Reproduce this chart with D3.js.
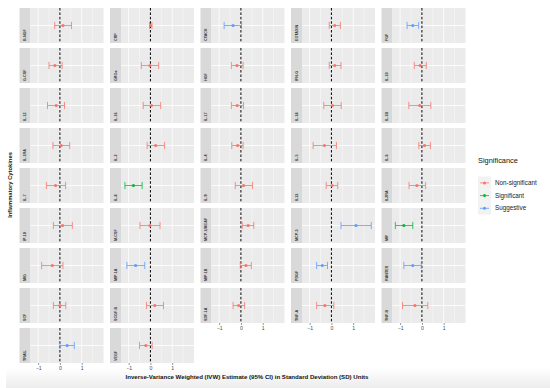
<!DOCTYPE html>
<html>
<head>
<meta charset="utf-8">
<script src="https://cdn.jsdelivr.net/npm/d3@7"></script>
<style>
  body { margin: 0; background: #fff; }
  text { font-family: "Liberation Sans", Arial, sans-serif; }
</style>
</head>
<body>
<div id="chart"></div>
<script>
// cytokines in facet order (row-wise, 5 per row)
var cytokines = ["B-NGF","CRP","CTACK","EOTAXIN","FGF",
  "G-CSF","GROa","HGF","IFN-G","IL-10",
  "IL-12","IL-16","IL-17","IL-18","IL-1B",
  "IL-1RA","IL-2","IL-4","IL-5","IL-6",
  "IL-7","IL-8","IL-9","IL13","IL2RA",
  "IP-10","M-CSF","MCP-1/MCAF","MCP-3","MIF",
  "MIG","MIP-1A","MIP-1B","PDGF","RANTES",
  "SCF","SCGF-B","SDF-1A","TNF-A","TNF-B",
  "TRAIL","VEGF"];

var estimate = [0.14, 0.01, -0.36, 0.15, -0.42,
  -0.23, -0.02, -0.18, 0.15, -0.08,
  -0.17, 0.05, -0.17, 0.05, -0.10,
  0.06, 0.24, -0.15, -0.32, 0.12,
  -0.20, -0.78, 0.12, 0.03, -0.23,
  0.12, -0.02, 0.33, 1.13, -0.83,
  -0.35, -0.68, 0.23, -0.42, -0.42,
  0.00, 0.20, -0.10, -0.30, -0.32,
  0.33, -0.21];

var lower = [-0.24, -0.04, -0.77, -0.10, -0.68,
  -0.50, -0.42, -0.44, -0.10, -0.35,
  -0.57, -0.33, -0.44, -0.35, -0.60,
  -0.32, -0.15, -0.42, -0.84, -0.14,
  -0.62, -1.17, -0.26, -0.24, -0.59,
  -0.30, -0.48, 0.06, 0.44, -1.22,
  -0.84, -1.08, -0.03, -0.68, -0.83,
  -0.30, -0.18, -0.36, -0.68, -0.89,
  0.00, -0.50];

var upper = [0.53, 0.07, 0.03, 0.41, -0.15,
  0.10, 0.38, 0.10, 0.44, 0.20,
  0.21, 0.47, 0.12, 0.45, 0.41,
  0.45, 0.65, 0.10, 0.23, 0.39,
  0.26, -0.38, 0.53, 0.29, 0.17,
  0.57, 0.44, 0.59, 1.83, -0.42,
  0.14, -0.26, 0.48, -0.18, -0.03,
  0.27, 0.60, 0.17, 0.11, 0.27,
  0.66, 0.08];

var significance = ["N","N","S","N","S",
  "N","N","N","N","N",
  "N","N","N","N","N",
  "N","N","N","N","N",
  "N","G","N","N","N",
  "N","N","N","S","G",
  "N","S","N","S","S",
  "N","N","N","N","N",
  "S","N"];

var sigNames = {N: "Non-significant", G: "Significant", S: "Suggestive"};
var sigColor = {N: "#F8766D", G: "#00BA38", S: "#619CFF"};

var xTicks = [-1, 0, 1];
var xMinor = [-0.5, 0.5, 1.5];

var width = 550, height = 388;
var ncol = 5;
var colStart = 19.5, colStep = 90.5, stripW = 11, plotW = 73;
var rowStart = 8, rowStep = 40, panelH = 35;

var svg = d3.select("#chart").append("svg")
  .attr("width", width)
  .attr("height", height);

// faint grey band at the bottom of the screenshot
var grad = svg.append("defs").append("linearGradient")
  .attr("id", "fade").attr("x1", 0).attr("y1", 0).attr("x2", 0).attr("y2", 1);
grad.append("stop").attr("offset", "0%").attr("stop-color", "#fff");
grad.append("stop").attr("offset", "100%").attr("stop-color", "#ececec");
svg.append("rect").attr("x", 6).attr("y", 368).attr("width", 544).attr("height", 20)
  .attr("fill", "url(#fade)");

var x = d3.scaleLinear().domain([-1.35, 2.0]).range([0, plotW]);

var data = cytokines.map(function(c, i) {
  return {name: c, est: estimate[i], lo: lower[i], hi: upper[i], sig: significance[i], i: i};
});

var nrowCol = function(col) {
  return d3.max(data.filter(function(d) { return d.i % ncol === col; }), function(d) { return Math.floor(d.i / ncol); });
};

var panels = svg.selectAll("g.panel").data(data).enter().append("g")
  .attr("class", "panel")
  .attr("transform", function(d) {
    var col = d.i % ncol, row = Math.floor(d.i / ncol);
    return "translate(" + (colStart + col * colStep) + "," + (rowStart + row * rowStep) + ")";
  });

// strip
panels.append("rect")
  .attr("width", stripW).attr("height", panelH)
  .attr("fill", "#D9D9D9");
panels.append("text")
  .attr("transform", "translate(" + (stripW / 2 + 1.3) + "," + (panelH - 2) + ") rotate(-90)")
  .attr("font-size", 3.7)
  .attr("font-weight", "bold")
  .attr("fill", "#333")
  .text(function(d) { return d.name; });

// plot background
var plot = panels.append("g").attr("transform", "translate(" + stripW + ",0)");
plot.append("rect").attr("width", plotW).attr("height", panelH).attr("fill", "#EBEBEB");

plot.selectAll("line.minor").data(xMinor).enter().append("line")
  .attr("x1", x).attr("x2", x).attr("y1", 0).attr("y2", panelH)
  .attr("stroke", "#fff").attr("stroke-width", 0.4);
plot.selectAll("line.major").data(xTicks).enter().append("line")
  .attr("x1", x).attr("x2", x).attr("y1", 0).attr("y2", panelH)
  .attr("stroke", "#fff").attr("stroke-width", 0.8);
plot.append("line")
  .attr("x1", 0).attr("x2", plotW).attr("y1", panelH / 2).attr("y2", panelH / 2)
  .attr("stroke", "#fff").attr("stroke-width", 0.8);

// reference line at zero
plot.append("line")
  .attr("x1", x(0)).attr("x2", x(0)).attr("y1", 0).attr("y2", panelH)
  .attr("stroke", "#000").attr("stroke-width", 1).attr("stroke-dasharray", "2.6,1.8");

// error bars
var cy = panelH / 2, cap = 3.6;
plot.append("line")
  .attr("x1", function(d) { return x(d.lo); }).attr("x2", function(d) { return x(d.hi); })
  .attr("y1", cy).attr("y2", cy)
  .attr("stroke", function(d) { return sigColor[d.sig]; }).attr("stroke-width", 0.8);
plot.append("line")
  .attr("x1", function(d) { return x(d.lo); }).attr("x2", function(d) { return x(d.lo); })
  .attr("y1", cy - cap).attr("y2", cy + cap)
  .attr("stroke", function(d) { return sigColor[d.sig]; }).attr("stroke-width", 0.8);
plot.append("line")
  .attr("x1", function(d) { return x(d.hi); }).attr("x2", function(d) { return x(d.hi); })
  .attr("y1", cy - cap).attr("y2", cy + cap)
  .attr("stroke", function(d) { return sigColor[d.sig]; }).attr("stroke-width", 0.8);
plot.append("circle")
  .attr("cx", function(d) { return x(d.est); }).attr("cy", cy).attr("r", 1.6)
  .attr("fill", function(d) { return sigColor[d.sig]; });

// x axis under the last panel of each column
plot.filter(function(d) { return Math.floor(d.i / ncol) === nrowCol(d.i % ncol); })
  .append("g")
  .attr("transform", "translate(0," + panelH + ")")
  .call(d3.axisBottom(x).tickValues(xTicks).tickSize(2).tickPadding(1.5).tickFormat(d3.format("d")))
  .call(function(g) {
    g.select(".domain").remove();
    g.selectAll("line").attr("stroke", "#333").attr("stroke-width", 0.5);
    g.selectAll("text").attr("font-size", 5.2).attr("fill", "#4D4D4D").attr("font-family", "Liberation Sans, Arial, sans-serif");
  });

// axis titles
svg.append("text")
  .attr("x", 247).attr("y", 379)
  .attr("text-anchor", "middle")
  .attr("font-size", 6.1).attr("font-weight", "bold").attr("fill", "#111")
  .text("Inverse-Variance Weighted (IVW) Estimate (95% CI) in Standard Deviation (SD) Units");
svg.append("text")
  .attr("transform", "translate(12,185) rotate(-90)")
  .attr("text-anchor", "middle")
  .attr("font-size", 5.8).attr("font-weight", "bold").attr("fill", "#111")
  .text("Inflammatory Cytokines");

// legend
var legend = svg.append("g").attr("transform", "translate(478,0)");
legend.append("text").attr("x", 0).attr("y", 163)
  .attr("font-size", 7.4).attr("fill", "#111").text("Significance");
var keys = legend.selectAll("g.key").data(["N", "G", "S"]).enter().append("g")
  .attr("transform", function(d, i) { return "translate(0," + (176.5 + i * 12.7) + ")"; });
keys.append("rect").attr("width", 13).attr("height", 12.7).attr("fill", "#F2F2F2");
keys.append("line").attr("x1", 2).attr("x2", 11).attr("y1", 6.4).attr("y2", 6.4)
  .attr("stroke", function(d) { return sigColor[d]; }).attr("stroke-width", 0.8);
keys.append("circle").attr("cx", 6.5).attr("cy", 6.4).attr("r", 1.5)
  .attr("fill", function(d) { return sigColor[d]; });
keys.append("text").attr("x", 17).attr("y", 8.6)
  .attr("font-size", 6.3).attr("fill", "#222")
  .text(function(d) { return sigNames[d]; });
</script>
</body>
</html>
